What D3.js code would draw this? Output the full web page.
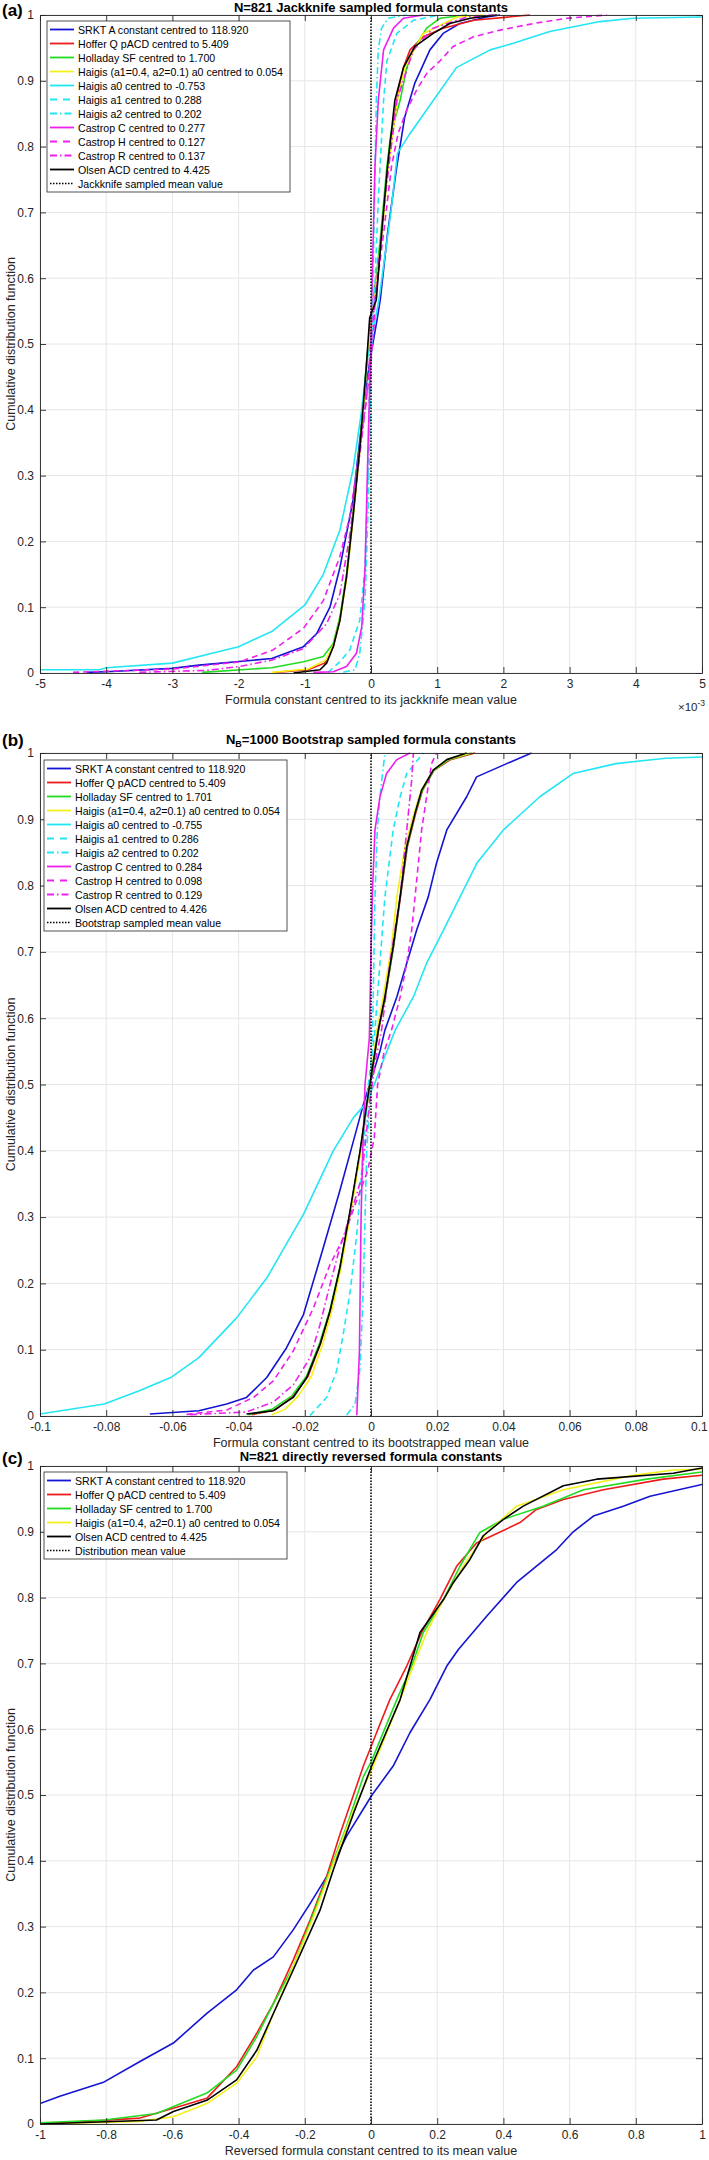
<!DOCTYPE html>
<html><head><meta charset="utf-8">
<script src="https://cdn.jsdelivr.net/npm/d3@7"></script>
<style>
body{margin:0;background:#fff;}
svg{display:block;font-family:"Liberation Sans",Arial,Helvetica,sans-serif;}
</style></head><body>
<svg id="chart" width="709" height="2160"></svg>
<script>
// ---------- Panel (a): Jackknife (x in units of 1e-3) ----------
const A_srkt = [[-4.3,0.001],[-4.0,0.002],[-3.0,0.007],[-2.6,0.012],[-1.5,0.022],[-1.02,0.04],[-0.82,0.06],[-0.62,0.10],[-0.47,0.16],[-0.27,0.263],[-0.17,0.354],[-0.07,0.44],[0.01,0.49],[0.09,0.536],[0.14,0.567],[0.25,0.668],[0.39,0.77],[0.51,0.845],[0.66,0.896],[0.89,0.947],[1.09,0.972],[1.34,0.987],[1.75,0.997],[1.95,1.0]];
const A_hoffer = [[-1.45,0.001],[-0.95,0.005],[-0.7,0.015],[-0.57,0.04],[-0.47,0.08],[-0.37,0.146],[-0.27,0.24],[-0.17,0.34],[-0.07,0.466],[0.0,0.54],[0.08,0.6],[0.16,0.67],[0.25,0.77],[0.39,0.87],[0.49,0.92],[0.59,0.947],[0.79,0.967],[1.09,0.98],[1.55,0.992],[2.4,1.0]];
const A_holladay = [[-2.55,0.001],[-1.5,0.008],[-1.02,0.017],[-0.72,0.025],[-0.57,0.045],[-0.47,0.085],[-0.37,0.15],[-0.27,0.245],[-0.17,0.345],[-0.07,0.47],[0.0,0.54],[0.08,0.6],[0.15,0.67],[0.24,0.77],[0.3,0.82],[0.44,0.87],[0.54,0.92],[0.64,0.947],[0.84,0.98],[1.04,0.995],[1.45,1.0]];
const A_haigis = [[-1.5,0.001],[-0.95,0.006],[-0.68,0.02],[-0.56,0.045],[-0.46,0.085],[-0.36,0.15],[-0.26,0.245],[-0.16,0.345],[-0.06,0.47],[0.01,0.54],[0.09,0.6],[0.17,0.67],[0.26,0.77],[0.4,0.87],[0.51,0.92],[0.79,0.972],[1.3,0.997],[1.7,1.0]];
const A_haigisA0 = [[-5,0.005],[-4.1,0.005],[-4.0,0.008],[-3.0,0.015],[-2.4,0.03],[-2.0,0.04],[-1.5,0.063],[-1.0,0.103],[-0.72,0.15],[-0.47,0.217],[-0.27,0.31],[-0.14,0.40],[-0.05,0.48],[0.05,0.53],[0.12,0.567],[0.3,0.70],[0.4,0.79],[0.59,0.82],[0.94,0.87],[1.29,0.92],[1.8,0.947],[2.15,0.957],[2.7,0.975],[3.46,0.99],[3.96,0.995],[5,0.997]];
const A_haigisA1 = [[-0.65,0.001],[-0.47,0.017],[-0.32,0.035],[-0.17,0.08],[-0.09,0.16],[-0.04,0.31],[-0.02,0.466],[0.05,0.567],[0.11,0.72],[0.19,0.87],[0.24,0.93],[0.39,0.972],[0.64,0.992],[1.04,1.0]];
const A_haigisA2 = [[-0.42,0.001],[-0.24,0.005],[-0.17,0.03],[-0.09,0.11],[-0.04,0.26],[0.0,0.45],[0.025,0.567],[0.08,0.87],[0.11,0.947],[0.16,0.98],[0.26,0.995],[0.54,1.0]];
const A_castropC = [[-0.87,0.001],[-0.57,0.002],[-0.37,0.01],[-0.22,0.03],[-0.14,0.07],[-0.09,0.16],[-0.04,0.364],[0.0,0.5],[0.01,0.567],[0.06,0.77],[0.11,0.87],[0.19,0.947],[0.34,0.98],[0.49,0.995],[0.79,1.0]];
const A_castropH = [[-4.5,0.001],[-3.0,0.006],[-1.98,0.017],[-1.48,0.035],[-1.02,0.068],[-0.72,0.11],[-0.47,0.177],[-0.32,0.238],[-0.17,0.34],[-0.04,0.44],[0.04,0.516],[0.06,0.567],[0.19,0.668],[0.31,0.77],[0.41,0.82],[0.54,0.856],[0.69,0.886],[0.84,0.911],[1.04,0.93],[1.24,0.952],[1.55,0.967],[1.95,0.977],[2.45,0.987],[2.96,0.995],[3.56,1.0]];
const A_castropR = [[-3.5,0.001],[-2.48,0.004],[-1.98,0.01],[-1.48,0.02],[-1.02,0.037],[-0.67,0.075],[-0.47,0.12],[-0.32,0.21],[-0.22,0.29],[-0.07,0.415],[0.01,0.516],[0.06,0.567],[0.21,0.72],[0.39,0.87],[0.64,0.947],[0.94,0.98],[1.45,0.997],[1.85,1.0]];
const A_olsen = [[-1.17,0.0],[-0.77,0.005],[-0.67,0.015],[-0.57,0.04],[-0.47,0.08],[-0.37,0.146],[-0.27,0.238],[-0.17,0.34],[-0.07,0.466],[-0.02,0.54],[0.08,0.567],[0.16,0.668],[0.25,0.77],[0.36,0.87],[0.49,0.92],[0.66,0.952],[0.94,0.972],[1.19,0.987],[1.5,0.995],[1.9,1.0]];

// ---------- Panel (b): Bootstrap ----------
const B_srkt = [[-0.0668,0.003],[-0.052,0.008],[-0.0436,0.018],[-0.0376,0.028],[-0.0315,0.058],[-0.0255,0.103],[-0.0204,0.153],[-0.0144,0.254],[-0.0094,0.34],[-0.0053,0.415],[-0.0023,0.47],[0.0027,0.55],[0.0042,0.582],[0.0078,0.632],[0.0108,0.683],[0.0138,0.733],[0.0173,0.783],[0.0198,0.834],[0.0229,0.884],[0.0289,0.934],[0.0319,0.964],[0.041,0.984],[0.0485,1.0]];
const B_hoffer = [[-0.036,0.002],[-0.029,0.009],[-0.0235,0.03],[-0.019,0.06],[-0.0152,0.11],[-0.0122,0.16],[-0.0093,0.225],[-0.0062,0.31],[-0.0032,0.40],[-0.0012,0.47],[0.0023,0.582],[0.0043,0.632],[0.0068,0.708],[0.0089,0.783],[0.011,0.859],[0.0135,0.909],[0.0156,0.944],[0.019,0.974],[0.024,0.99],[0.0314,1.0]];
const B_holladay = [[-0.037,0.002],[-0.03,0.01],[-0.024,0.03],[-0.0195,0.06],[-0.0155,0.11],[-0.0124,0.16],[-0.0094,0.225],[-0.0062,0.31],[-0.0032,0.40],[-0.0012,0.47],[0.0022,0.582],[0.0043,0.632],[0.0068,0.708],[0.0088,0.783],[0.0109,0.859],[0.0133,0.909],[0.0155,0.944],[0.019,0.974],[0.0235,0.99],[0.0305,1.0]];
const B_haigis = [[-0.03,0.002],[-0.026,0.01],[-0.022,0.03],[-0.018,0.06],[-0.0145,0.11],[-0.0118,0.16],[-0.009,0.225],[-0.006,0.31],[-0.0031,0.40],[-0.0012,0.47],[0.0018,0.582],[0.0037,0.632],[0.0062,0.708],[0.0078,0.783],[0.0103,0.859],[0.013,0.909],[0.0152,0.944],[0.0188,0.974],[0.023,0.99],[0.03,1.0]];
const B_haigisA0 = [[-0.1,0.003],[-0.0806,0.018],[-0.07,0.038],[-0.0605,0.058],[-0.052,0.088],[-0.0406,0.148],[-0.0315,0.208],[-0.0204,0.304],[-0.0114,0.40],[-0.0053,0.45],[-0.0018,0.47],[0.001,0.5],[0.004,0.54],[0.0073,0.582],[0.0128,0.632],[0.0168,0.683],[0.0219,0.733],[0.0269,0.783],[0.032,0.834],[0.040,0.884],[0.051,0.934],[0.061,0.969],[0.074,0.984],[0.089,0.992],[0.1,0.994]];
const B_haigisA1 = [[-0.0184,0.001],[-0.0134,0.028],[-0.0104,0.068],[-0.0084,0.123],[-0.0063,0.188],[-0.0043,0.274],[-0.0023,0.40],[-0.0008,0.50],[0.0012,0.582],[0.0027,0.683],[0.0042,0.783],[0.0067,0.884],[0.0088,0.934],[0.0108,0.969],[0.0158,1.0]];
const B_haigisA2 = [[-0.0074,0.001],[-0.0048,0.018],[-0.0033,0.073],[-0.0023,0.198],[-0.0013,0.40],[0.0,0.5],[0.0005,0.582],[0.0012,0.783],[0.0019,0.884],[0.0027,0.934],[0.0042,1.0]];
const B_castropC = [[-0.0043,0.001],[-0.0035,0.098],[-0.003,0.30],[-0.0025,0.40],[-0.0018,0.50],[-0.0005,0.57],[0.0,0.70],[0.0005,0.80],[0.0012,0.884],[0.0027,0.934],[0.0047,0.969],[0.0078,0.99],[0.0118,1.0]];
const B_castropH = [[-0.0557,0.0025],[-0.0436,0.009],[-0.0355,0.028],[-0.0295,0.053],[-0.0235,0.098],[-0.0174,0.163],[-0.0124,0.228],[-0.0084,0.268],[-0.004,0.33],[-0.001,0.37],[0.001,0.42],[0.002,0.50],[0.004,0.55],[0.0062,0.582],[0.0088,0.632],[0.0108,0.683],[0.0123,0.733],[0.0138,0.808],[0.0153,0.884],[0.0168,0.934],[0.0183,0.984],[0.0198,1.0]];
const B_castropR = [[-0.0547,0.002],[-0.0376,0.006],[-0.0295,0.021],[-0.0235,0.047],[-0.0184,0.088],[-0.0154,0.138],[-0.0124,0.198],[-0.0094,0.254],[-0.0058,0.31],[-0.0028,0.36],[-0.0005,0.47],[0.0015,0.54],[0.0032,0.582],[0.0057,0.683],[0.0088,0.783],[0.0108,0.884],[0.0123,0.96],[0.0128,1.0]];
const B_olsen = [[-0.0376,0.003],[-0.0295,0.008],[-0.0235,0.028],[-0.0194,0.058],[-0.0154,0.108],[-0.0124,0.158],[-0.0094,0.223],[-0.0063,0.31],[-0.0033,0.40],[-0.0013,0.47],[0.0022,0.582],[0.0042,0.632],[0.0067,0.708],[0.0088,0.783],[0.0108,0.859],[0.0133,0.909],[0.0153,0.944],[0.0188,0.974],[0.0229,0.99],[0.0289,1.0]];

// ---------- Panel (c): directly reversed ----------
const C_srkt = [[-1,0.031],[-0.94,0.042],[-0.806,0.064],[-0.698,0.095],[-0.597,0.123],[-0.496,0.168],[-0.406,0.204],[-0.355,0.234],[-0.295,0.254],[-0.235,0.295],[-0.184,0.335],[-0.134,0.376],[-0.074,0.437],[0.003,0.50],[0.067,0.544],[0.118,0.595],[0.178,0.645],[0.229,0.696],[0.264,0.721],[0.35,0.772],[0.44,0.823],[0.561,0.873],[0.611,0.90],[0.672,0.924],[0.762,0.939],[0.843,0.954],[1.0,0.972]];
const C_hoffer = [[-0.99,0.0],[-0.698,0.009],[-0.597,0.024],[-0.496,0.039],[-0.406,0.087],[-0.345,0.138],[-0.295,0.183],[-0.235,0.249],[-0.184,0.31],[-0.134,0.376],[-0.094,0.44],[-0.053,0.50],[-0.023,0.544],[0.017,0.595],[0.057,0.645],[0.108,0.696],[0.153,0.747],[0.208,0.797],[0.259,0.848],[0.319,0.883],[0.45,0.914],[0.5,0.934],[0.581,0.949],[0.702,0.964],[0.883,0.98],[1.0,0.986]];
const C_holladay = [[-1,0.002],[-0.806,0.006],[-0.648,0.016],[-0.496,0.047],[-0.406,0.082],[-0.345,0.133],[-0.295,0.183],[-0.235,0.239],[-0.174,0.32],[-0.124,0.386],[-0.074,0.452],[-0.023,0.528],[0.0,0.55],[0.078,0.645],[0.123,0.696],[0.158,0.747],[0.219,0.797],[0.269,0.848],[0.329,0.899],[0.40,0.919],[0.52,0.939],[0.642,0.964],[0.833,0.98],[1.0,0.991]];
const C_haigis = [[-1,0.0],[-0.698,0.004],[-0.597,0.011],[-0.496,0.031],[-0.406,0.062],[-0.345,0.102],[-0.295,0.168],[-0.235,0.239],[-0.174,0.315],[-0.114,0.396],[-0.053,0.477],[0.007,0.544],[0.088,0.645],[0.168,0.747],[0.219,0.797],[0.279,0.848],[0.35,0.899],[0.44,0.939],[0.581,0.964],[0.782,0.985],[0.913,0.994],[1.0,0.995]];
const C_olsen = [[-1,0.0],[-0.648,0.006],[-0.597,0.019],[-0.496,0.036],[-0.406,0.067],[-0.345,0.112],[-0.295,0.168],[-0.235,0.234],[-0.154,0.325],[-0.114,0.386],[-0.053,0.472],[0.002,0.544],[0.088,0.645],[0.148,0.747],[0.219,0.797],[0.249,0.823],[0.299,0.858],[0.339,0.894],[0.40,0.919],[0.46,0.939],[0.581,0.97],[0.682,0.98],[0.913,0.989],[1.0,0.997]];

// ---------- Legends ----------
const legendA = ["SRKT A constant centred to 118.920","Hoffer Q pACD centred to 5.409","Holladay SF centred to 1.700","Haigis (a1=0.4, a2=0.1) a0 centred to 0.054","Haigis a0 centred to -0.753","Haigis a1 centred to 0.288","Haigis a2 centred to 0.202","Castrop C centred to 0.277","Castrop H centred to 0.127","Castrop R centred to 0.137","Olsen ACD centred to 4.425","Jackknife sampled mean value"];
const legendB = ["SRKT A constant centred to 118.920","Hoffer Q pACD centred to 5.409","Holladay SF centred to 1.701","Haigis (a1=0.4, a2=0.1) a0 centred to 0.054","Haigis a0 centred to -0.755","Haigis a1 centred to 0.286","Haigis a2 centred to 0.202","Castrop C centred to 0.284","Castrop H centred to 0.098","Castrop R centred to 0.129","Olsen ACD centred to 4.426","Bootstrap sampled mean value"];
const legendC = ["SRKT A constant centred to 118.920","Hoffer Q pACD centred to 5.409","Holladay SF centred to 1.700","Haigis (a1=0.4, a2=0.1) a0 centred to 0.054","Olsen ACD centred to 4.425","Distribution mean value"];

// ---------- Ticks ----------
const yTicks = [0,0.1,0.2,0.3,0.4,0.5,0.6,0.7,0.8,0.9,1];
const yTickLabels = ["0","0.1","0.2","0.3","0.4","0.5","0.6","0.7","0.8","0.9","1"];
const xTicksA = [-5,-4,-3,-2,-1,0,1,2,3,4,5];
const xTickLabelsA = ["-5","-4","-3","-2","-1","0","1","2","3","4","5"];
const xTicksB = [-0.1,-0.08,-0.06,-0.04,-0.02,0,0.02,0.04,0.06,0.08,0.1];
const xTickLabelsB = ["-0.1","-0.08","-0.06","-0.04","-0.02","0","0.02","0.04","0.06","0.08","0.1"];
const xTicksC = [-1,-0.8,-0.6,-0.4,-0.2,0,0.2,0.4,0.6,0.8,1];
const xTickLabelsC = ["-1","-0.8","-0.6","-0.4","-0.2","0","0.2","0.4","0.6","0.8","1"];

// ---------- Styles ----------
const STY = {
  srkt:{c:"#1414d2",d:null}, hoffer:{c:"#ee1b1b",d:null}, holladay:{c:"#22dc22",d:null}, haigis:{c:"#f4f01c",d:null},
  a0:{c:"#22e6f4",d:null}, a1:{c:"#22e6f4",d:"6,4"}, a2:{c:"#22e6f4",d:"7,3,1.5,3"},
  cC:{c:"#ee20ee",d:null}, cH:{c:"#ee20ee",d:"6,4"}, cR:{c:"#ee20ee",d:"7,3,1.5,3"}, olsen:{c:"#000000",d:null}
};

const svg = d3.select("#chart");
svg.append("rect").attr("width",709).attr("height",2160).attr("fill","#fff");
const L = 40, R = 702;

function drawPanel(cfg){
  const x = d3.scaleLinear().domain(cfg.xDomain).range([L,R]);
  const y = d3.scaleLinear().domain([0,1]).range([cfg.bottom,cfg.top]);
  const g = svg.append("g");
  // grid
  g.selectAll(".vg").data(cfg.xTicks).join("line")
    .attr("x1",d=>x(d)).attr("x2",d=>x(d)).attr("y1",cfg.top).attr("y2",cfg.bottom)
    .attr("stroke","#e6e6e6").attr("stroke-width",1);
  g.selectAll(".hg").data(yTicks).join("line")
    .attr("y1",d=>y(d)).attr("y2",d=>y(d)).attr("x1",L).attr("x2",R)
    .attr("stroke","#e6e6e6").attr("stroke-width",1);
  // clip
  const cid = "clip"+cfg.id;
  svg.append("clipPath").attr("id",cid).append("rect")
    .attr("x",L).attr("y",cfg.top-1).attr("width",R-L).attr("height",cfg.bottom-cfg.top+2);
  const line = d3.line().x(d=>x(d[0])).y(d=>y(d[1]));
  const cg = g.append("g").attr("clip-path",`url(#${cid})`);
  cfg.series.forEach(s=>{
    const st = STY[s.k];
    cg.append("path").datum(s.data).attr("d",line)
      .attr("fill","none").attr("stroke",st.c).attr("stroke-width",1.6)
      .attr("stroke-linejoin","round")
      .attr("stroke-dasharray",st.d);
  });
  // mean line at 0
  cg.append("line").attr("x1",x(0)).attr("x2",x(0)).attr("y1",y(0)).attr("y2",y(1))
    .attr("stroke","#000").attr("stroke-width",1.5).attr("stroke-dasharray","1.5,1.5");
  // axes
  const fx = d => cfg.xLabels[cfg.xTicks.indexOf(d)];
  const fy = d => yTickLabels[yTicks.indexOf(d)];
  const ax = [
    g.append("g").attr("transform",`translate(0,${cfg.bottom})`).call(d3.axisBottom(x).tickValues(cfg.xTicks).tickFormat(fx).tickSizeInner(-6).tickSizeOuter(0).tickPadding(6)),
    g.append("g").attr("transform",`translate(${L},0)`).call(d3.axisLeft(y).tickValues(yTicks).tickFormat(fy).tickSizeInner(-6).tickSizeOuter(0).tickPadding(6)),
    g.append("g").attr("transform",`translate(0,${cfg.top})`).call(d3.axisTop(x).tickValues(cfg.xTicks).tickFormat("").tickSizeInner(-6).tickSizeOuter(0)),
    g.append("g").attr("transform",`translate(${R},0)`).call(d3.axisRight(y).tickValues(yTicks).tickFormat("").tickSizeInner(-6).tickSizeOuter(0))
  ];
  ax.forEach(a=>{
    a.select(".domain").attr("stroke","#262626").attr("stroke-width",0.9);
    a.selectAll(".tick line").attr("stroke","#262626").attr("stroke-width",0.9);
    a.selectAll("text").attr("fill","#262626").attr("font-size",12)
      .attr("font-family",'"Liberation Sans",Arial,sans-serif');
  });
  // keep edge tick labels inside the page
  ax[0].selectAll("text").each(function(){
    const bb = this.getBBox();
    const ctm = this.getCTM();
    const right = ctm.e + bb.x + bb.width;
    if(right > 708) d3.select(this).attr("dx", 708 - right);
  });
  // x label
  g.append("text").attr("x",(L+R)/2).attr("y",cfg.bottom+31).attr("text-anchor","middle")
    .attr("font-size",12.5).attr("fill","#262626").text(cfg.xLabel);
  // y label
  g.append("text").attr("transform",`translate(12,${(cfg.top+cfg.bottom)/2}) rotate(-90)`)
    .attr("text-anchor","middle").attr("dominant-baseline","middle")
    .attr("font-size",12.5).attr("fill","#262626").text("Cumulative distribution function");
  // title
  const t = g.append("text").attr("x",(L+R)/2).attr("y",cfg.titleY).attr("text-anchor","middle")
    .attr("font-size",13).attr("font-weight","bold").attr("fill","#000");
  cfg.title.forEach(p=>{
    const ts = t.append("tspan").text(p.t);
    if(p.sub) ts.attr("font-size",9).attr("dy",3);
    if(p.after) ts.attr("dy",-3);
  });
  // panel letter
  g.append("text").attr("x",2).attr("y",cfg.letterY).attr("font-size",17).attr("font-weight","bold")
    .attr("fill","#000").text(cfg.letter);
  // x10^-3
  if(cfg.exp){
    const e = g.append("text").attr("x",R+3).attr("y",cfg.bottom+38).attr("text-anchor","end")
      .attr("font-size",11.5).attr("fill","#262626");
    e.append("tspan").text("\u00d710");
    e.append("tspan").attr("font-size",8.5).attr("dy",-5).text("-3");
  }
  // legend
  const rowH = 14, pad = 8.5;
  const lx = cfg.legX, lw = 243;
  const lh = pad*2 + rowH*(cfg.legend.length-1);
  const lg = g.append("g");
  lg.append("rect").attr("x",lx).attr("y",cfg.legTop).attr("width",lw).attr("height",lh)
    .attr("fill","#fff").attr("stroke","#262626").attr("stroke-width",0.8);
  cfg.legend.forEach((txt,i)=>{
    const yy = cfg.legTop + pad + rowH*i;
    const k = cfg.legKeys[i];
    const l = lg.append("line").attr("x1",lx+3).attr("x2",lx+27).attr("y1",yy).attr("y2",yy);
    if(k==="mean") l.attr("stroke","#000").attr("stroke-width",1.3).attr("stroke-dasharray","1.5,1.5");
    else l.attr("stroke",STY[k].c).attr("stroke-width",1.8).attr("stroke-dasharray",STY[k].d===null?null:(STY[k].d==="6,4"?"7,6":"7,3,1.5,3"));
    lg.append("text").attr("x",lx+31).attr("y",yy).attr("dominant-baseline","central")
      .attr("font-size",10.6).attr("fill","#000").text(txt);
  });
}

const keys11 = ["srkt","hoffer","holladay","haigis","a0","a1","a2","cC","cH","cR","olsen","mean"];

drawPanel({id:"a", top:15, bottom:673, xDomain:[-5,5], xTicks:xTicksA, xLabels:xTickLabelsA,
  xLabel:"Formula constant centred to its jackknife mean value", exp:true,
  title:[{t:"N=821 Jackknife sampled formula constants"}], titleY:12, letter:"(a)", letterY:16,
  legend:legendA, legKeys:keys11, legX:47, legTop:21,
  series:[{k:"srkt",data:A_srkt},{k:"hoffer",data:A_hoffer},{k:"holladay",data:A_holladay},{k:"haigis",data:A_haigis},
    {k:"a0",data:A_haigisA0},{k:"a1",data:A_haigisA1},{k:"a2",data:A_haigisA2},{k:"cC",data:A_castropC},
    {k:"cH",data:A_castropH},{k:"cR",data:A_castropR},{k:"olsen",data:A_olsen}]});

drawPanel({id:"b", top:753, bottom:1416, xDomain:[-0.1,0.1], xTicks:xTicksB, xLabels:xTickLabelsB,
  xLabel:"Formula constant centred to its bootstrapped mean value", exp:false,
  title:[{t:"N"},{t:"B",sub:true},{t:"=1000 Bootstrap sampled formula constants",after:true}], titleY:744, letter:"(b)", letterY:746,
  legend:legendB, legKeys:keys11, legX:44, legTop:760,
  series:[{k:"srkt",data:B_srkt},{k:"hoffer",data:B_hoffer},{k:"holladay",data:B_holladay},{k:"haigis",data:B_haigis},
    {k:"a0",data:B_haigisA0},{k:"a1",data:B_haigisA1},{k:"a2",data:B_haigisA2},{k:"cC",data:B_castropC},
    {k:"cH",data:B_castropH},{k:"cR",data:B_castropR},{k:"olsen",data:B_olsen}]});

drawPanel({id:"c", top:1466, bottom:2124, xDomain:[-1,1], xTicks:xTicksC, xLabels:xTickLabelsC,
  xLabel:"Reversed formula constant centred to its mean value", exp:false,
  title:[{t:"N=821 directly reversed formula constants"}], titleY:1461, letter:"(c)", letterY:1464,
  legend:legendC, legKeys:["srkt","hoffer","holladay","haigis","olsen","mean"], legX:44, legTop:1472,
  series:[{k:"srkt",data:C_srkt},{k:"hoffer",data:C_hoffer},{k:"holladay",data:C_holladay},{k:"haigis",data:C_haigis},
    {k:"olsen",data:C_olsen}]});
</script>
</body></html>
